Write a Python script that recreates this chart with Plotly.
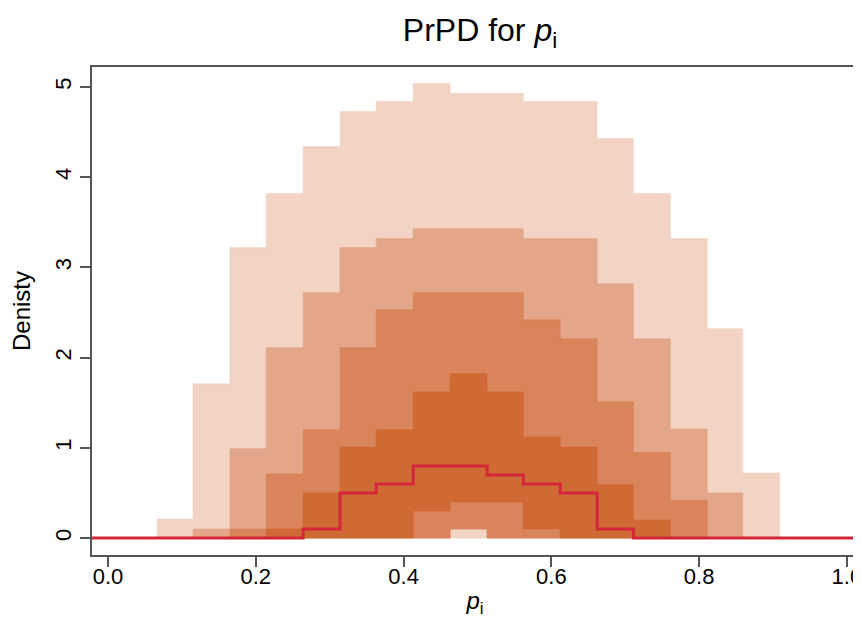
import plotly.graph_objects as go

# Bin edges of the histogram (p_i)
bin_edges = [0.066, 0.115, 0.165, 0.214, 0.264, 0.314, 0.363, 0.413, 0.463,
             0.513, 0.562, 0.612, 0.662, 0.711, 0.761, 0.811, 0.859, 0.909]

# Predictive density bands per bin (outer -> inner)
band1_lo = [0, 0, 0, 0, 0, 0, 0, 0, 0, 0, 0, 0, 0, 0, 0, 0, 0]
band1_hi = [0.21, 1.71, 3.22, 3.82, 4.34, 4.73, 4.84, 5.04, 4.93, 4.93, 4.84, 4.84, 4.43, 3.82, 3.32, 2.32, 0.72]
band2_lo = [0, 0, 0, 0, 0, 0, 0, 0, 0.1, 0, 0, 0, 0, 0, 0, 0, 0]
band2_hi = [0, 0.1, 0.99, 2.11, 2.72, 3.22, 3.32, 3.43, 3.43, 3.43, 3.32, 3.32, 2.82, 2.21, 1.21, 0.50, 0]
band3_lo = [0, 0, 0, 0, 0, 0, 0, 0, 0.1, 0, 0, 0, 0, 0, 0, 0, 0]
band3_hi = [0, 0, 0.1, 0.71, 1.20, 2.11, 2.53, 2.72, 2.72, 2.72, 2.42, 2.21, 1.51, 0.95, 0.42, 0, 0]
band4_lo = [0, 0, 0, 0, 0, 0, 0, 0.3, 0.4, 0.4, 0.1, 0, 0, 0, 0, 0, 0]
band4_hi = [0, 0, 0, 0.1, 0.50, 1.01, 1.20, 1.62, 1.82, 1.62, 1.12, 1.01, 0.59, 0.20, 0, 0, 0]

# Observed density
observed = [0, 0, 0, 0, 0.1, 0.5, 0.6, 0.8, 0.8, 0.7, 0.6, 0.5, 0.1, 0, 0, 0, 0]

x_ticks = [0.0, 0.2, 0.4, 0.6, 0.8, 1.0]
x_tick_labels = ["0.0", "0.2", "0.4", "0.6", "0.8", "1.0"]
y_ticks = [0, 1, 2, 3, 4, 5]
y_tick_labels = ["0", "1", "2", "3", "4", "5"]

band_colors = ["#F2D3C4", "#E4A688", "#D9845A", "#CF6A34"]
bands = [(band1_lo, band1_hi), (band2_lo, band2_hi), (band3_lo, band3_hi), (band4_lo, band4_hi)]


def step_polygon(edges, lo, hi):
    xs, ys = [], []
    for i in range(len(hi)):
        xs += [edges[i], edges[i + 1]]
        ys += [hi[i], hi[i]]
    for i in reversed(range(len(lo))):
        xs += [edges[i + 1], edges[i]]
        ys += [lo[i], lo[i]]
    return xs, ys


fig = go.Figure()
for (lo, hi), col in zip(bands, band_colors):
    px, py = step_polygon(bin_edges, lo, hi)
    fig.add_trace(go.Scatter(x=px, y=py, mode="lines", fill="toself",
                             fillcolor=col, line=dict(width=0.6, color=col),
                             hoverinfo="skip", showlegend=False))

obs_x = [-0.05] + bin_edges + [1.05]
obs_y = [0] + observed + [0, 0]
fig.add_trace(go.Scatter(x=obs_x, y=obs_y, mode="lines", line_shape="hv",
                         line=dict(color="#D6263A", width=3), showlegend=False))

font_family = "Liberation Sans, Arial, sans-serif"
# page has an 8px body margin, so the figure is 8px smaller than the window
fig.update_layout(
    width=853, height=632,
    margin=dict(l=84, r=3, t=59, b=85, autoexpand=False),
    paper_bgcolor="white", plot_bgcolor="white",
    font=dict(family=font_family, color="black"),
    title=dict(text="PrPD for <i>p</i><sub>i</sub>", x=472 / 853, xref="container",
               xanchor="center", y=1 - 22 / 632, yref="container", yanchor="middle",
               font=dict(size=32, family=font_family, color="black")),
    xaxis=dict(range=[-0.0217, 1.015], tickvals=x_ticks, ticktext=x_tick_labels,
               showgrid=False, zeroline=False, showline=True, mirror=True,
               linecolor="#555555", linewidth=2, ticks="outside", ticklen=10,
               tickcolor="#555555", tickwidth=1.5, tickfont=dict(size=22),
               ticklabelstandoff=-9, ticklabeloverflow="allow", automargin=False,
               title=dict(text="<i>p</i><sub>i</sub>", font=dict(size=24), standoff=4)),
    yaxis=dict(range=[-0.188, 5.222], tickvals=y_ticks, ticktext=y_tick_labels,
               showgrid=False, zeroline=False, showline=True, mirror=True,
               linecolor="#555555", linewidth=2, ticks="outside", ticklen=10,
               tickcolor="#555555", tickwidth=1.5, tickfont=dict(size=22), tickangle=-90,
               automargin=False,
               title=dict(text="Denisty", font=dict(size=24), standoff=14)),
)

fig.write_html("out.html")
